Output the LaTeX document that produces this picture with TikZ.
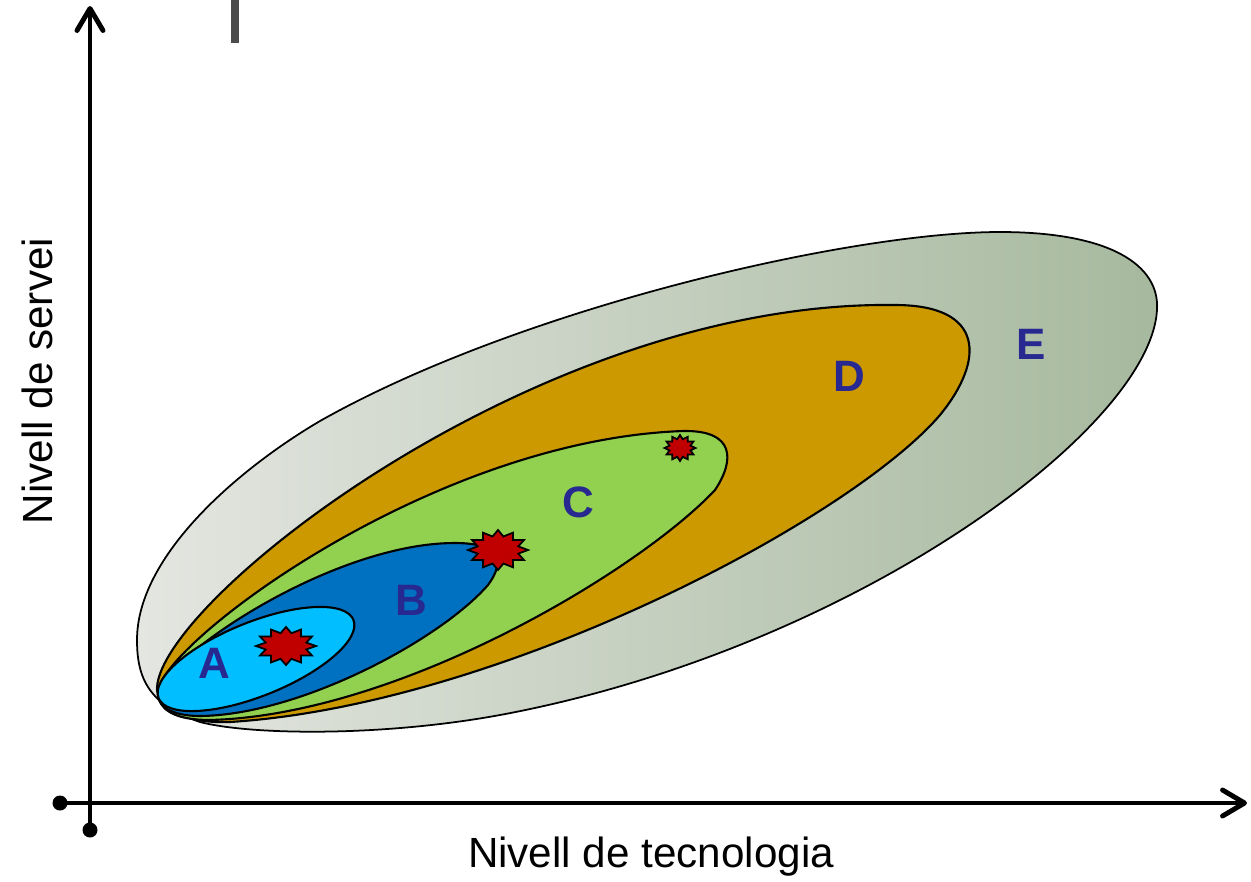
\documentclass[tikz,border=0pt]{standalone}
\usepackage{fontspec}
\setmainfont{Liberation Sans}
\usetikzlibrary{arrows.meta}

\definecolor{zoneA}{RGB}{0,190,255}
\definecolor{zoneB}{RGB}{0,112,192}
\definecolor{zoneC}{RGB}{146,208,80}
\definecolor{zoneD}{RGB}{204,153,0}
\definecolor{zoneEl}{RGB}{228,230,225}
\definecolor{zoneEr}{RGB}{166,185,158}
\definecolor{starred}{RGB}{192,0,0}
\definecolor{letterblue}{RGB}{40,40,145}

\tikzset{
  zone/.style={draw=black,line width=0.6pt},
  axis/.style={line width=1.4pt,-{Straight Barb[length=2.2mm,width=2.6mm,round]}},
  burst/.style={fill=starred,draw=black,line width=0.5pt},
  zonelabel/.style={text=letterblue,font=\fontsize{12.5}{15}\selectfont\bfseries},
  axislabel/.style={font=\fontsize{12}{14}\selectfont},
}

% 12 point star, centre x y, half width, half height
\newcommand{\burst}[4]{%
\begin{scope}[shift={(#1,#2)}]
\filldraw[burst] (0:#3 and #4) \foreach \k [evaluate=\k as \r using {1-0.3*mod(\k,2)}] in {1,...,23}{ -- (\k*15:\r*#3 and \r*#4) } -- cycle;
\end{scope}}

\begin{document}
\begin{tikzpicture}[x=0.01cm,y=-0.01cm]
\useasboundingbox (0,0) rectangle (1251,881);

% zones, outer first
\draw[zone,line width=0.5pt,left color=zoneEl,right color=zoneEr] (137,640) .. controls (137,555) and (240,468) .. (320,421)
  .. controls (520,308) and (850,232) .. (1000,232) .. controls (1110,232) and (1160,265) .. (1157,310)
  .. controls (1150,430) and (850,650) .. (500,715) .. controls (380,737) and (250,735) .. (200,722)
  .. controls (150,705) and (137,680) .. (137,640) -- cycle;
\draw[zone,fill=zoneD] (157,688) .. controls (160,600) and (540,300) .. (895,305)
  .. controls (985,305) and (985,360) .. (940,415) .. controls (850,520) and (500,705) .. (230,722)
  .. controls (180,724) and (157,705) .. (157,688) -- cycle;
\draw[zone,fill=zoneC] (158,692) .. controls (160,645) and (430,440) .. (683,431)
  .. controls (735,430) and (735,460) .. (715,490) .. controls (640,570) and (400,715) .. (210,720)
  .. controls (175,720) and (158,710) .. (158,692) -- cycle;
\draw[zone,fill=zoneB] (158,695) .. controls (160,660) and (330,543) .. (455,543)
  .. controls (505,543) and (503,565) .. (488,585) .. controls (440,640) and (300,715) .. (200,716)
  .. controls (170,716) and (158,705) .. (158,695) -- cycle;
\draw[zone,fill=zoneA,rotate around={21.9:(256,659)}] (256,659) ellipse [x radius=105,y radius=37];

% stars
\burst{286}{646}{30}{19}
\burst{498}{550}{30}{20}
\burst{680}{448}{15.5}{13}

% zone letters
\node[zonelabel] (lblA) at (214,663) {A};
\node[zonelabel] (lblB) at (411,600) {B};
\node[zonelabel] (lblC) at (578,502) {C};
\node[zonelabel] (lblD) at (849,376) {D};
\node[zonelabel] (lblE) at (1031,344) {E};

% axes
\coordinate (xstart) at (60,803);
\coordinate (xend) at (1247,803);
\coordinate (ystart) at (90,830);
\coordinate (yend) at (90,6);
\draw[axis] (xstart) -- (xend);
\draw[axis] (ystart) -- (yend);
\fill (xstart) circle (7.5);
\fill (ystart) circle (7.5);

\node[axislabel,anchor=base] (xlab) at (651,867) {Nivell de tecnologia};
\node[axislabel,anchor=base,rotate=90] (ylab) at (52,381) {Nivell de servei};

\fill[black!70] (231,0) rectangle (239,43);
\end{tikzpicture}
\end{document}
